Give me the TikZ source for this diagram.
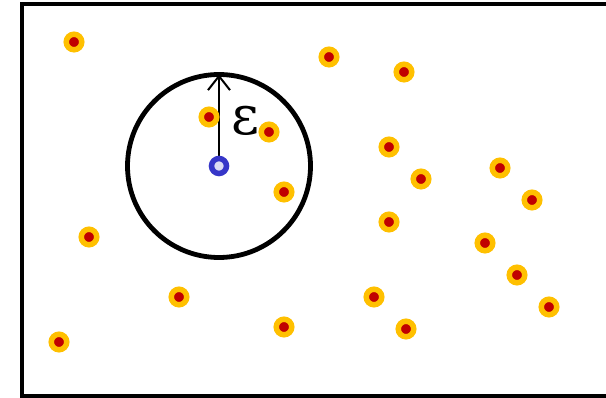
\documentclass[tikz,border=0pt]{standalone}
\usepackage{fontspec}
\newfontfamily\epsfont{DejaVu Serif}
\usetikzlibrary{arrows.meta}
\definecolor{dotyellow}{HTML}{FFC000}
\definecolor{dotred}{HTML}{C00000}
\definecolor{ctrblue}{HTML}{3636C8}
\definecolor{ctrfill}{HTML}{DCDCF4}
\tikzset{
  pdot/.style={circle, draw=dotyellow, fill=dotred, line width=5.5pt, minimum size=15.5pt, inner sep=0pt},
  cdot/.style={circle, draw=ctrblue, fill=ctrfill, line width=5.5pt, minimum size=15pt, inner sep=0pt},
  ball/.style={circle, draw=black, line width=4.8pt, minimum size=183pt, inner sep=0pt, outer sep=0pt},
  radius arrow/.style={line width=2pt, -{Straight Barb[length=14pt, width=22pt, line width=2pt]}},
}
\begin{document}
\begin{tikzpicture}[x=1pt, y=-1pt]
\useasboundingbox (0,0) rectangle (606,398);
\clip (0,0) rectangle (606,398);
\draw[line width=4.6pt] (640,4) -- (22,4) -- (22,396) -- (640,396);
\node[ball] (b) at (219,166) {};
\coordinate (c0) at (219,166);
\draw[radius arrow] (c0) -- (b.north);
\node[cdot] (c) at (219,166) {};
\node (eps) at (245,121) {\fontsize{54}{54}\selectfont\epsfont ε};
\node[pdot] (p1) at (74,42) {};
\node[pdot] (p2) at (329,57) {};
\node[pdot] (p3) at (404,72) {};
\node[pdot] (p4) at (209,117) {};
\node[pdot] (p5) at (269,132) {};
\node[pdot] (p6) at (389,147) {};
\node[pdot] (p7) at (421,179) {};
\node[pdot] (p8) at (500,168) {};
\node[pdot] (p9) at (532,200) {};
\node[pdot] (p10) at (284,192) {};
\node[pdot] (p11) at (389,222) {};
\node[pdot] (p12) at (89,237) {};
\node[pdot] (p13) at (485,243) {};
\node[pdot] (p14) at (517,275) {};
\node[pdot] (p15) at (179,297) {};
\node[pdot] (p16) at (374,297) {};
\node[pdot] (p17) at (549,307) {};
\node[pdot] (p18) at (284,327) {};
\node[pdot] (p19) at (406,329) {};
\node[pdot] (p20) at (59,342) {};
\end{tikzpicture}
\end{document}
